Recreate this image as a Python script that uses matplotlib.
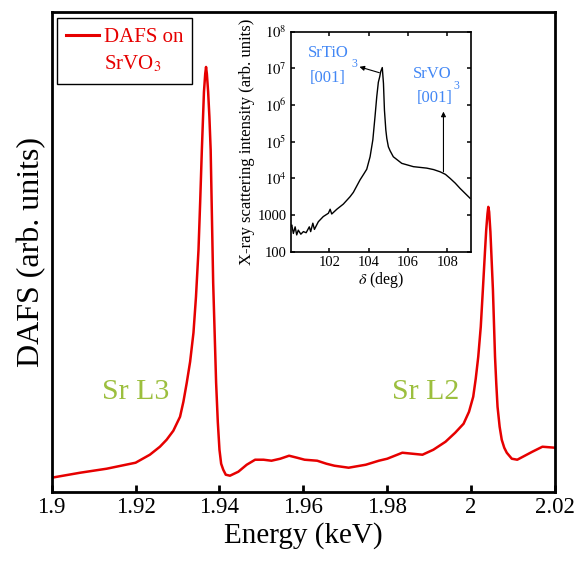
import matplotlib
matplotlib.use("Agg")
import matplotlib.pyplot as plt
from matplotlib.lines import Line2D
import numpy as np

# ---------------- data ----------------
energy = [1.9000, 1.9068, 1.9131, 1.9200, 1.9234, 1.9258, 1.9274, 1.9290, 1.9306, 1.9314,
          1.9322, 1.9330, 1.9338, 1.9344, 1.9350, 1.9354, 1.9358, 1.9363, 1.9366, 1.9368,
          1.9370, 1.9373, 1.9376, 1.9379, 1.9385, 1.9392, 1.9396, 1.9400, 1.9404, 1.9409,
          1.9415, 1.9425, 1.9445, 1.9465, 1.9485, 1.9505, 1.9524, 1.9545, 1.9566, 1.9585,
          1.9603, 1.9633, 1.9655, 1.9674, 1.9708, 1.9749, 1.9780, 1.9800, 1.9836, 1.9884,
          1.9910, 1.9939, 1.9962, 1.9982, 1.9995, 2.0005, 2.0011, 2.0017, 2.0023, 2.0028,
          2.0033, 2.0036, 2.0039, 2.0041, 2.0043, 2.0046, 2.0052, 2.0057, 2.0060, 2.0063,
          2.0068, 2.0073, 2.0079, 2.0085, 2.0097, 2.0110, 2.0146, 2.0170, 2.0200]
dafs = [14, 19, 23, 29, 37, 45, 52, 61, 75, 90,
        109, 130, 159, 195, 242, 290, 342, 400, 418, 425,
        418, 400, 375, 342, 209, 109, 70, 42, 28, 22,
        17, 16, 20, 27, 32, 32, 31, 33, 36, 34,
        32, 31, 28, 26, 24, 27, 31, 33, 39, 37,
        42, 50, 59, 68, 80, 95, 113, 135, 165, 202,
        240, 262, 278, 285, 280, 260, 202, 135, 108, 85,
        65, 52, 44, 39, 33, 32, 40, 45, 44]

x_ticks = [1.90, 1.92, 1.94, 1.96, 1.98, 2.00, 2.02]
x_tick_labels = ["1.9", "1.92", "1.94", "1.96", "1.98", "2", "2.02"]

delta = [100.05, 100.09, 100.17, 100.26, 100.34, 100.42, 100.55, 100.68, 100.82, 100.98,
         101.05, 101.16, 101.24, 101.44, 101.69, 101.95, 102.04, 102.12, 102.38, 102.71,
         103.05, 103.22, 103.40, 103.56, 103.75, 103.90, 104.07, 104.21, 104.32, 104.41,
         104.49, 104.56, 104.61, 104.69, 104.75, 104.80, 104.87, 104.92, 105.00, 105.09,
         105.25, 105.68, 106.27, 106.95, 107.30, 107.63, 107.90, 108.14, 108.40, 108.64,
         108.98, 109.15]
log_intensity = [2.70, 2.73, 2.50, 2.68, 2.46, 2.59, 2.48, 2.55, 2.52, 2.68,
                 2.55, 2.78, 2.61, 2.82, 2.96, 3.05, 3.16, 3.03, 3.16, 3.30,
                 3.50, 3.62, 3.80, 3.96, 4.12, 4.25, 4.59, 5.05, 5.68, 6.23,
                 6.62, 6.77, 6.91, 7.02, 6.59, 5.86, 5.32, 5.09, 4.86, 4.75,
                 4.59, 4.41, 4.32, 4.28, 4.24, 4.18, 4.11, 4.00, 3.87, 3.73,
                 3.55, 3.46]
inset_x_ticks = [102, 104, 106, 108]
inset_y_ticks = [1e2, 1e3, 1e4, 1e5, 1e6, 1e7, 1e8]
inset_y_labels = ["100", "1000", "$10^4$", "$10^5$", "$10^6$", "$10^7$", "$10^8$"]

# ---------------- style ----------------
plt.rcParams["font.family"] = ["Liberation Serif", "DejaVu Serif"]
plt.rcParams["mathtext.fontset"] = "stix"

RED = "#e60000"
GREEN = "#9cbf3e"
BLUE = "#4287f5"

fig = plt.figure(figsize=(5.79, 5.61), dpi=100)
W, H = 579, 561

def px_axes(l, t, r, b):
    return [l / W, 1 - b / H, (r - l) / W, (b - t) / H]

ax = fig.add_axes(px_axes(51.7, 12, 555, 491.7))
ax.plot(energy, dafs, color=RED, lw=1.8, solid_joinstyle="round")
ax.set_xlim(1.9, 2.02)
ax.set_ylim(0, 480)
ax.set_xticks(x_ticks)
ax.set_xticklabels(x_tick_labels)
ax.set_yticks([])
ax.tick_params(axis="x", direction="in", length=5, width=2, labelsize=16.5, pad=4,
               top=False)
for s in ax.spines.values():
    s.set_linewidth(2)
ax.set_xlabel("Energy (keV)", fontsize=21, labelpad=3)
ax.set_ylabel("DAFS (arb. units)", fontsize=23, labelpad=4)

ax.text(1.9119, 93, "Sr L3", color=GREEN, fontsize=21.5, ha="left", va="baseline")
ax.text(1.9812, 93, "Sr L2", color=GREEN, fontsize=21.5, ha="left", va="baseline")

# legend: first line carries the handle, second line has an empty handle
h1 = Line2D([], [], color=RED, lw=2.2)
h2 = Line2D([], [], color="none", lw=0)
leg = ax.legend([h1, h2], ["DAFS on", "SrVO$_3$"], loc="upper left",
                bbox_to_anchor=(0.0099, 0.9875), borderaxespad=0,
                fontsize=15, labelcolor=RED, frameon=True, fancybox=False,
                edgecolor="black", framealpha=1, handlelength=1.6,
                handletextpad=0.2, borderpad=0.45, labelspacing=0.32)
leg.get_frame().set_linewidth(1.0)

# ---------------- inset ----------------
axi = fig.add_axes(px_axes(291, 31.6, 471, 251.8))
axi.plot(delta, 10 ** np.array(log_intensity), color="black", lw=1.0,
         solid_joinstyle="round")
axi.set_yscale("log")
axi.set_xlim(100.05, 109.2)
axi.set_ylim(1e2, 1e8)
axi.set_xticks(inset_x_ticks)
axi.set_xticklabels([str(v) for v in inset_x_ticks])
axi.set_yticks(inset_y_ticks)
axi.set_yticklabels(inset_y_labels)
axi.yaxis.set_minor_locator(matplotlib.ticker.NullLocator())
axi.tick_params(direction="in", length=3, width=1.1, labelsize=10.5, pad=3,
                top=True, right=True)
for s in axi.spines.values():
    s.set_linewidth(1.2)
axi.set_xlabel(r"$\delta$ (deg)", fontsize=11.5, labelpad=1)
axi.set_ylabel("X-ray scattering intensity (arb. units)", fontsize=12, labelpad=2)

axi.text(100.90, 10 ** 7.30, "SrTiO", color=BLUE, fontsize=12, ha="left", va="baseline")
axi.text(101.02, 10 ** 6.635, "[001]", color=BLUE, fontsize=12, ha="left", va="baseline")
axi.text(103.12, 10 ** 7.12, "3", color=BLUE, fontsize=8.5, ha="left", va="center")
axi.text(106.27, 10 ** 6.73, "SrVO", color=BLUE, fontsize=12, ha="left", va="baseline")
axi.text(106.44, 10 ** 6.09, "[001]", color=BLUE, fontsize=12, ha="left", va="baseline")
axi.text(108.32, 10 ** 6.52, "3", color=BLUE, fontsize=8.5, ha="left", va="center")

arrow = dict(arrowstyle="-|>", lw=0.8, color="black", mutation_scale=7,
             shrinkA=0, shrinkB=0)
axi.annotate("", xy=(103.53, 10 ** 7.04), xytext=(104.54, 10 ** 6.88), arrowprops=arrow)
axi.annotate("", xy=(107.8, 10 ** 5.82), xytext=(107.8, 10 ** 4.18), arrowprops=arrow)

fig.savefig("out.png", dpi=100)
